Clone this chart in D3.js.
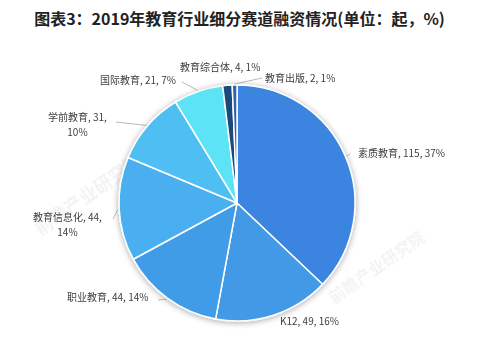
<!DOCTYPE html>
<html>
<head>
<meta charset="utf-8">
<script src="https://cdn.jsdelivr.net/npm/d3@7"></script>
<style>
  html, body { margin: 0; padding: 0; background: #fff; }
  svg { display: block; }
</style>
</head>
<body>
<svg id="chart" width="479" height="341"></svg>
<script>
// Financing deals by education segment, 2019 (count, share)
const categories = ["素质教育", "K12", "职业教育", "教育信息化", "学前教育", "国际教育", "教育综合体", "教育出版"];
const counts = [115, 49, 44, 44, 31, 21, 4, 2];
const shares = ["37%", "16%", "14%", "14%", "10%", "7%", "1%", "1%"];
const colors = ["#3b84df", "#439ae6", "#409ce7", "#4aaff0", "#50bff3", "#5de3f6", "#1d4a7c", "#2f63a8"];

// label layout: text anchor point (left x, first-line y), lines, leader end
const labelLayout = [
  { x: 358, y: 157, lines: 1, lead: [350, 154] },
  { x: 280, y: 325, lines: 1, lead: null },
  { x: 67,  y: 301, lines: 1, lead: [158, 300] },
  { x: 33,  y: 221, lines: 2, lead: [113, 219] },
  { x: 48,  y: 121, lines: 2, lead: [116, 122] },
  { x: 100, y: 84,  lines: 1, lead: [182, 82] },
  { x: 180, y: 71,  lines: 1, lead: null },
  { x: 265, y: 82,  lines: 1, lead: [262, 78] }
];

const svg = d3.select("#chart");
const W = 479, H = 341;
const cx = 237, cy = 203, R = 118;
const font = "'Noto Sans CJK SC', 'Noto Sans', sans-serif";

// title
svg.append("text")
  .attr("x", W / 2).attr("y", 25)
  .attr("text-anchor", "middle")
  .attr("font-family", font)
  .attr("font-weight", "bold")
  .attr("font-size", 16)
  .attr("fill", "#222")
  .text("图表3：2019年教育行业细分赛道融资情况(单位：起，%)");

// faint brand watermark
const wm = svg.append("g").attr("fill", "#000").attr("opacity", 0.05)
  .attr("font-family", font).attr("font-weight", "bold");
[[92, 200, 18], [380, 272, 16], [255, 135, 14]].forEach(([x, y, s]) => {
  wm.append("text").attr("transform", `translate(${x},${y}) rotate(-35)`)
    .attr("text-anchor", "middle").attr("font-size", s).text("前瞻产业研究院");
});

// soft shadow under the pie
const defs = svg.append("defs");
const f = defs.append("filter").attr("id", "shadow").attr("x", "-20%").attr("y", "-20%").attr("width", "140%").attr("height", "140%");
f.append("feGaussianBlur").attr("in", "SourceAlpha").attr("stdDeviation", 3).attr("result", "b");
f.append("feOffset").attr("in", "b").attr("dx", 0).attr("dy", 1).attr("result", "o");
f.append("feComponentTransfer").attr("in", "o").attr("result", "s")
  .append("feFuncA").attr("type", "linear").attr("slope", 0.35);
const m = f.append("feMerge");
m.append("feMergeNode").attr("in", "s");
m.append("feMergeNode").attr("in", "SourceGraphic");

const pie = d3.pie().sort(null).value(d => d);
const arcs = pie(counts);
const arc = d3.arc().innerRadius(0).outerRadius(R);
const edgeArc = d3.arc().innerRadius(R + 1).outerRadius(R + 1);

const g = svg.append("g").attr("transform", `translate(${cx},${cy})`);
g.append("g").attr("filter", "url(#shadow)")
  .selectAll("path")
  .data(arcs)
  .join("path")
  .attr("d", arc)
  .attr("fill", (d, i) => colors[i])
  .attr("stroke", "#fff")
  .attr("stroke-width", 1.5)
  .attr("stroke-linejoin", "round");

// leader lines
const leaders = svg.append("g").attr("fill", "none").attr("stroke", "#a6a6a6").attr("stroke-width", 0.8);
arcs.forEach((d, i) => {
  const L = labelLayout[i];
  if (!L.lead) return;
  const [ex, ey] = edgeArc.centroid(d);
  leaders.append("path")
    .attr("d", d3.line()([[cx + ex, cy + ey], L.lead]));
});

// data labels
const labels = svg.append("g")
  .attr("font-family", font)
  .attr("font-size", 10)
  .attr("fill", "#404040");
arcs.forEach((d, i) => {
  const L = labelLayout[i];
  const name = categories[i], v = counts[i], p = shares[i];
  if (L.lines === 1) {
    labels.append("text").attr("x", L.x).attr("y", L.y)
      .text(`${name}, ${v}, ${p}`);
  } else {
    const t = labels.append("text").attr("x", L.x).attr("y", L.y).text(`${name}, ${v},`);
    const w = t.node().getComputedTextLength();
    labels.append("text").attr("x", L.x + w / 2).attr("y", L.y + 15)
      .attr("text-anchor", "middle").text(p);
  }
});
</script>
</body>
</html>
